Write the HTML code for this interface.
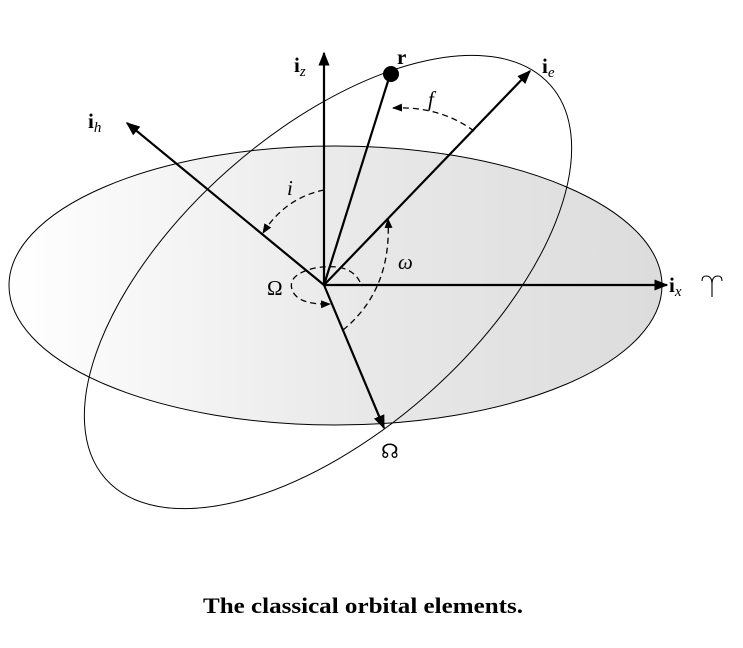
<!DOCTYPE html>
<html><head><style>
body{margin:0;background:#fff;}
svg text{font-family:"Liberation Serif",serif;}
</style></head><body>
<svg width="743" height="643" viewBox="0 0 743 643" xmlns="http://www.w3.org/2000/svg">
<defs>
<linearGradient id="g" x1="0" y1="0" x2="1" y2="0">
<stop offset="0" stop-color="#ffffff"/><stop offset="0.55" stop-color="#e8e8e8"/><stop offset="1" stop-color="#dcdcdc"/>
</linearGradient>
<marker id="A" viewBox="0 0 10 10" refX="9" refY="5" markerWidth="14" markerHeight="14" orient="auto" markerUnits="userSpaceOnUse"><path d="M0,1 L10,5 L0,9 z" fill="#000"/></marker>
<marker id="s" viewBox="0 0 10 10" refX="9" refY="5" markerWidth="10" markerHeight="10" orient="auto" markerUnits="userSpaceOnUse"><path d="M0,1 L10,5 L0,9 z" fill="#000"/></marker>
</defs>
<ellipse cx="335.5" cy="285.5" rx="326.5" ry="139.5" fill="url(#g)" stroke="#000" stroke-width="1"/>
<ellipse cx="328" cy="282" rx="297" ry="150" transform="rotate(-41.5 328 282)" fill="none" stroke="#000" stroke-width="1"/>
<g stroke="#000" stroke-width="2.2" fill="none">
<line x1="324" y1="285" x2="324" y2="53" marker-end="url(#A)"/>
<line x1="324" y1="285" x2="389" y2="78"/>
<line x1="324" y1="285" x2="530" y2="71" marker-end="url(#A)"/>
<line x1="324" y1="285" x2="127" y2="123" marker-end="url(#A)"/>
<line x1="324" y1="285" x2="667" y2="285" marker-end="url(#A)"/>
<line x1="324" y1="285" x2="384" y2="428" marker-end="url(#A)"/>
</g>
<circle cx="391" cy="74" r="8" fill="#000"/>
<g stroke="#000" stroke-width="1.3" fill="none" stroke-dasharray="6,4">
<path d="M474,131 Q440,106 393,108" marker-end="url(#s)"/>
<path d="M324,190 Q285,198 263,233" marker-end="url(#s)"/>
<path d="M343,330 Q392,290 388,219" marker-end="url(#s)"/>
<path d="M360,282 Q350,262 315,268 Q285,275 293,292 Q300,305 330,304" marker-end="url(#s)"/>
</g>
<path d="M712,297 L712,284 Q712,276 706,276 Q702,276 702,281 M712,284 Q712,276 718,276 Q722,276 722,281" stroke="#000" stroke-width="1.1" fill="none"/>
<g font-size="21">
<text x="294" y="72"><tspan font-weight="bold">i</tspan><tspan font-size="15" font-style="italic" dy="4">z</tspan></text>
<text x="397" y="64" font-weight="bold">r</text>
<text x="542" y="73"><tspan font-weight="bold">i</tspan><tspan font-size="15" font-style="italic" dy="4">e</tspan></text>
<text x="88" y="128"><tspan font-weight="bold">i</tspan><tspan font-size="15" font-style="italic" dy="4">h</tspan></text>
<text x="669" y="292"><tspan font-weight="bold">i</tspan><tspan font-size="15" font-style="italic" dy="4">x</tspan></text>
<text x="428" y="106" font-style="italic">f</text>
<text x="287" y="195" font-style="italic">i</text>
<text x="398" y="269" font-style="italic">ω</text>
<text x="267" y="295">Ω</text>
<text x="381" y="458" font-size="20">☊</text>
</g>
<text x="203" y="613" textLength="320" lengthAdjust="spacingAndGlyphs" font-size="22" font-weight="bold">The classical orbital elements.</text>
</svg>
</body></html>
